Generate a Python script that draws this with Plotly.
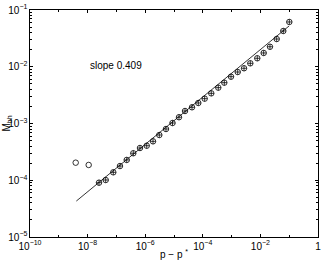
import plotly.graph_objects as go

# data (log-log)
dp = [2.49e-8, 4.25e-8, 7.80e-8, 1.33e-7, 2.28e-7, 3.86e-7, 6.59e-7, 1.13e-6, 1.87e-6,
      3.09e-6, 5.27e-6, 8.87e-6, 1.49e-5, 2.41e-5, 4.22e-5, 6.98e-5, 1.16e-4, 1.97e-4,
      3.45e-4, 5.58e-4, 9.53e-4, 1.63e-3, 2.70e-3, 4.46e-3, 7.80e-3, 1.30e-2, 2.15e-2,
      3.68e-2, 6.24e-2, 1.01e-1]
mbh = [9.06e-5, 1.01e-4, 1.38e-4, 1.78e-4, 2.28e-4, 2.99e-4, 3.70e-4, 4.06e-4, 4.85e-4,
       6.27e-4, 8.00e-4, 1.02e-3, 1.29e-3, 1.66e-3, 1.93e-3, 2.30e-3, 2.74e-3, 3.40e-3,
       4.28e-3, 5.24e-3, 6.68e-3, 8.07e-3, 9.40e-3, 1.15e-2, 1.41e-2, 1.75e-2, 2.25e-2,
       3.08e-2, 4.27e-2, 6.15e-2]
out_dp = [3.86e-9, 1.09e-8]
out_mbh = [2.04e-4, 1.86e-4]
fit_dp = [4.06e-9, 9.84e-2]
fit_mbh = [4.3e-5, 5.22e-2]
slope_text = "slope 0.409"
x_title = "p − p <sup>*</sup>"
y_title = "M<sub>bh</sub>"

fig = go.Figure()
fig.add_trace(go.Scatter(x=fit_dp, y=fit_mbh, mode="lines",
                         line=dict(color="black", width=0.8), showlegend=False))
fig.add_trace(go.Scatter(x=out_dp, y=out_mbh, mode="markers",
                         marker=dict(symbol="circle-open", size=5.5, color="black",
                                     line=dict(width=0.8)), showlegend=False))
fig.add_trace(go.Scatter(x=dp, y=mbh, mode="markers",
                         marker=dict(symbol="circle-cross-open", size=5.5, color="black",
                                     line=dict(width=0.8)), showlegend=False))

fig.add_annotation(x=-7.0, y=-1.98, xref="x", yref="y", text=slope_text,
                   showarrow=False, font=dict(size=10, color="black"))
fig.add_annotation(x=0.5, y=-0.075, xref="paper", yref="paper", text=x_title,
                   showarrow=False, xanchor="center", yanchor="middle",
                   font=dict(size=10, color="black"))
fig.add_annotation(x=-0.083, y=0.5, xref="paper", yref="paper", text=y_title,
                   showarrow=False, xanchor="center", yanchor="middle", textangle=-90,
                   font=dict(size=10, color="black"))

axis_common = dict(type="log", showgrid=False, zeroline=False, showline=True,
                   linecolor="black", linewidth=1, mirror="allticks", ticks="inside",
                   ticklen=3, tickcolor="black", exponentformat="power", automargin=False,
                   tickfont=dict(size=8, color="black", family="Liberation Sans, Arial"))
fig.update_xaxes(range=[-10, 0], dtick=2, **axis_common,
                 minor=dict(ticks="inside", ticklen=2, dtick=1, tickcolor="black"))
fig.update_yaxes(range=[-5, -1], dtick=1, **axis_common,
                 minor=dict(ticks="inside", ticklen=2, dtick="D1", tickcolor="black"))

fig.update_layout(width=327, height=260, margin=dict(l=30, r=9, t=10, b=23),
                  paper_bgcolor="white", plot_bgcolor="white",
                  font=dict(family="Liberation Sans, Arial", color="black"))
fig.write_html("out.html", config={"displayModeBar": False},
               post_script="document.body.style.margin='0';document.body.style.overflow='hidden';")
